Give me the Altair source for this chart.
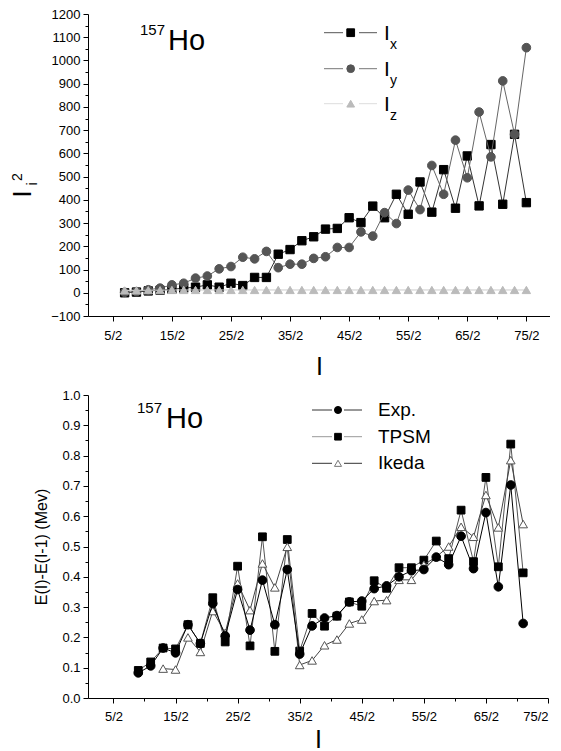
import altair as alt
import pandas as pd

FONT = "Liberation Sans"

# ---------------- data: top panel (I_i^2 vs I) ----------------
I_top = [3.5, 4.5, 5.5, 6.5, 7.5, 8.5, 9.5, 10.5, 11.5, 12.5, 13.5, 14.5, 15.5, 16.5,
         17.5, 18.5, 19.5, 20.5, 21.5, 22.5, 23.5, 24.5, 25.5, 26.5, 27.5, 28.5, 29.5,
         30.5, 31.5, 32.5, 33.5, 34.5, 35.5, 36.5, 37.5]
Ix = [0, 3, 8, 11, 15, 20, 24, 34, 24, 41, 31, 66, 66, 166, 186, 224, 241, 274, 277,
      323, 302, 373, 323, 424, 338, 477, 347, 530, 364, 589, 374, 638, 381, 682, 388]
Iy = [2, 5, 13, 20, 34, 41, 63, 72, 103, 113, 153, 146, 178, 108, 123, 123, 148, 155,
      195, 195, 262, 244, 345, 298, 442, 358, 548, 424, 657, 495, 778, 585, 912, 682, 1055]
Iz = [10, 10, 11, 11, 12, 12, 12, 12, 12, 12, 12, 12, 12, 12, 12, 12, 12, 12, 12, 12,
      12, 12, 12, 12, 12, 12, 12, 12, 12, 12, 12, 12, 12, 12, 12]

# ---------------- data: bottom panel (E(I)-E(I-1) vs I) ----------------
I_bot = [4.5, 5.5, 6.5, 7.5, 8.5, 9.5, 10.5, 11.5, 12.5, 13.5, 14.5, 15.5, 16.5, 17.5,
         18.5, 19.5, 20.5, 21.5, 22.5, 23.5, 24.5, 25.5, 26.5, 27.5, 28.5, 29.5, 30.5,
         31.5, 32.5, 33.5, 34.5, 35.5]
Exp = [0.083, 0.106, 0.165, 0.149, 0.242, 0.180, 0.312, 0.205, 0.358, 0.224, 0.389,
       0.242, 0.424, 0.145, 0.238, 0.264, 0.272, 0.317, 0.320, 0.361, 0.370, 0.400,
       0.420, 0.424, 0.465, 0.440, 0.534, 0.427, 0.612, 0.367, 0.703, 0.246]
TPSM = [0.091, 0.119, 0.165, 0.162, 0.242, 0.180, 0.331, 0.185, 0.435, 0.172, 0.532,
        0.154, 0.523, 0.155, 0.279, 0.237, 0.270, 0.317, 0.303, 0.387, 0.362, 0.430,
        0.430, 0.455, 0.518, 0.460, 0.620, 0.450, 0.728, 0.433, 0.838, 0.413]
I_ikeda = [6.5, 7.5, 8.5, 9.5, 10.5, 11.5, 12.5, 13.5, 14.5, 15.5, 16.5, 17.5, 18.5,
           19.5, 20.5, 21.5, 22.5, 23.5, 24.5, 25.5, 26.5, 27.5, 28.5, 29.5, 30.5, 31.5,
           32.5, 33.5, 34.5, 35.5]
Ikeda = [0.097, 0.094, 0.200, 0.152, 0.287, 0.215, 0.378, 0.290, 0.444, 0.365, 0.499,
         0.109, 0.124, 0.174, 0.193, 0.246, 0.259, 0.320, 0.323, 0.390, 0.390, 0.440,
         0.466, 0.500, 0.565, 0.532, 0.670, 0.563, 0.785, 0.574]

# ---------------- ticks ----------------
x_major = [2.5, 7.5, 12.5, 17.5, 22.5, 27.5, 32.5, 37.5]
x_minor = [5, 10, 15, 20, 25, 30, 35]
y_top_major = [-100, 0, 100, 200, 300, 400, 500, 600, 700, 800, 900, 1000, 1100, 1200]
y_top_minor = [-50, 50, 150, 250, 350, 450, 550, 650, 750, 850, 950, 1050, 1150]
y_bot_major = [0.0, 0.1, 0.2, 0.3, 0.4, 0.5, 0.6, 0.7, 0.8, 0.9, 1.0]
y_bot_minor = [0.05, 0.15, 0.25, 0.35, 0.45, 0.55, 0.65, 0.75, 0.85, 0.95]
FRAC = "format(datum.value * 2, 'd') + '/2'"

TOP_W, TOP_H = 462, 302
BOT_W, BOT_H = 460, 303
ONE = pd.DataFrame({"k": [0]})


def txt(s, x, y, size, angle=0, align="left", baseline="alphabetic", color="black"):
    return alt.Chart(ONE).mark_text(
        text=s, font=FONT, fontSize=size, angle=angle, align=align,
        baseline=baseline, color=color
    ).encode(x=alt.value(x), y=alt.value(y))


def seg(x1, x2, y, color):
    return alt.Chart(ONE).mark_rule(color=color, strokeWidth=1).encode(
        x=alt.value(x1), x2=alt.value(x2), y=alt.value(y))


def marker(x, y, shape, size, fill, stroke):
    return alt.Chart(ONE).mark_point(
        shape=shape, size=size, fill=fill, stroke=stroke, strokeWidth=1,
        opacity=1, fillOpacity=1
    ).encode(x=alt.value(x), y=alt.value(y))


def anchor():
    return alt.Chart(ONE).mark_rule(strokeOpacity=0, strokeWidth=1).encode(
        x=alt.value(-79.5), x2=alt.value(-79.5), y=alt.value(0), y2=alt.value(1))


def series(df, xf, yf, xs, ys, shape, size, fill, stroke, line_color):
    base = alt.Chart(df).encode(
        x=alt.X(f"{xf}:Q", scale=xs, axis=None),
        y=alt.Y(f"{yf}:Q", scale=ys, axis=None),
    )
    ln = base.mark_line(color=line_color, strokeWidth=1)
    pt = base.mark_point(shape=shape, size=size, fill=fill, stroke=stroke,
                         strokeWidth=1, opacity=1, fillOpacity=1)
    return [ln, pt]


def axes(df, xf, yf, xs, ys, ymaj, ymin, yfmt, ytitle, xlabpad, xtitlepad, ytitlepad):
    major = alt.Chart(df).mark_point(opacity=0).encode(
        x=alt.X(f"{xf}:Q", scale=xs, axis=alt.Axis(
            orient="bottom", values=x_major, labelExpr=FRAC, tickSize=5,
            labelPadding=xlabpad, title="I", titleFontSize=25, titleFontWeight="normal",
            titlePadding=xtitlepad)),
        y=alt.Y(f"{yf}:Q", scale=ys, axis=alt.Axis(
            orient="left", values=ymaj, format=yfmt, tickSize=5, labelPadding=3,
            title=ytitle, titleFontSize=16, titleFontWeight="normal",
            titlePadding=ytitlepad)),
    )
    minor = alt.Chart(df).mark_point(opacity=0).encode(
        x=alt.X(f"{xf}:Q", scale=xs, axis=alt.Axis(
            orient="bottom", values=x_minor, labels=False, domain=False, tickSize=3,
            title=None)),
        y=alt.Y(f"{yf}:Q", scale=ys, axis=alt.Axis(
            orient="left", values=ymin, labels=False, domain=False, tickSize=3,
            title=None)),
    )
    return [major, minor]


# ---------------- top panel ----------------
df_top = pd.DataFrame({"I": I_top, "Ix": Ix, "Iy": Iy, "Iz": Iz})
xs_t = alt.Scale(domain=[0.4, 39.5], nice=False, zero=False)
ys_t = alt.Scale(domain=[-100, 1200], nice=False, zero=False)

top_layers = axes(df_top, "I", "Ix", xs_t, ys_t, y_top_major, y_top_minor, "d", None, 8, 12, 10)
top_layers += series(df_top, "I", "Ix", xs_t, ys_t, "square", 70, "black", "black", "#333333")
top_layers += series(df_top, "I", "Iy", xs_t, ys_t, "circle", 75, "#555555", "#555555", "#666666")
top_layers += series(df_top, "I", "Iz", xs_t, ys_t, "triangle-up", 70, "#bbbbbb", "#bbbbbb", "#cccccc")

# title 157Ho
top_layers += [txt("157", 52, 21, 15), txt("Ho", 80, 36, 29)]
# y title  I_i^2 (rotated)
top_layers += [txt("I", -57, 180, 25, angle=270, align="center"),
               txt("i", -51, 170, 14, angle=270, align="center"),
               txt("2", -66, 163, 14, angle=270, align="center")]
# legend
leg_top = [(18.7, "#555555", "square", 60, "black", "black", "x"),
           (54.7, "#777777", "circle", 60, "#555555", "#555555", "y"),
           (89.7, "#dddddd", "triangle-up", 60, "#bbbbbb", "#bbbbbb", "z")]
for (yy, lc, shp, sz, fl, st, sub) in leg_top:
    top_layers += [seg(236, 255, yy, lc), seg(271, 289, yy, lc),
                   marker(262.7, yy, shp, sz, fl, st),
                   txt("I", 296, yy + 7.5, 21),
                   txt(sub, 302, yy + 16, 14)]
top_layers += [anchor()]

top = alt.layer(*top_layers).properties(width=TOP_W, height=TOP_H).resolve_axis(
    x="independent", y="independent")

# ---------------- bottom panel ----------------
df_b = pd.DataFrame({"I": I_bot, "Exp": Exp, "TPSM": TPSM})
df_k = pd.DataFrame({"I": I_ikeda, "Ikeda": Ikeda})
xs_b = alt.Scale(domain=[0.45, 37.5], nice=False, zero=False)
ys_b = alt.Scale(domain=[0, 1], nice=False, zero=False)

bot_layers = axes(df_b, "I", "Exp", xs_b, ys_b, y_bot_major, y_bot_minor, ".1f",
                  "E(I)-E(I-1) (Mev)", 7, 4, 12)
bot_layers += series(df_b, "I", "TPSM", xs_b, ys_b, "square", 60, "black", "black", "#555555")
bot_layers += series(df_k, "I", "Ikeda", xs_b, ys_b, "triangle-up", 75, "white", "#555555", "#444444")
bot_layers += series(df_b, "I", "Exp", xs_b, ys_b, "circle", 75, "black", "black", "black")

bot_layers += [txt("157", 49, 18, 15), txt("Ho", 78, 33, 29)]
leg_bot = [(15.0, "#333333", "circle", 50, "black", "black", "Exp."),
           (41.7, "#999999", "square", 45, "black", "black", "TPSM"),
           (68.3, "#333333", "triangle-up", 50, "white", "#777777", "Ikeda")]
for (yy, lc, shp, sz, fl, st, lab) in leg_bot:
    bot_layers += [seg(224, 244, yy, lc), seg(256, 274, yy, lc),
                   marker(250, yy, shp, sz, fl, st),
                   txt(lab, 290, yy, 19, baseline="middle")]
bot_layers += [anchor()]

bottom = alt.layer(*bot_layers).properties(width=BOT_W, height=BOT_H).resolve_axis(
    x="independent", y="independent")

chart = alt.vconcat(top, bottom, spacing=10).properties(
    padding={"left": 0, "top": 0, "right": 0, "bottom": 0}
).configure_view(strokeWidth=0).configure_axis(
    grid=False, labelFont=FONT, titleFont=FONT, labelFontSize=13, labelColor="black",
    titleColor="black", tickColor="black", domainColor="black", domainWidth=1,
    tickWidth=1
)

chart.save("out.html", embed_options={"renderer": "svg", "actions": False})
